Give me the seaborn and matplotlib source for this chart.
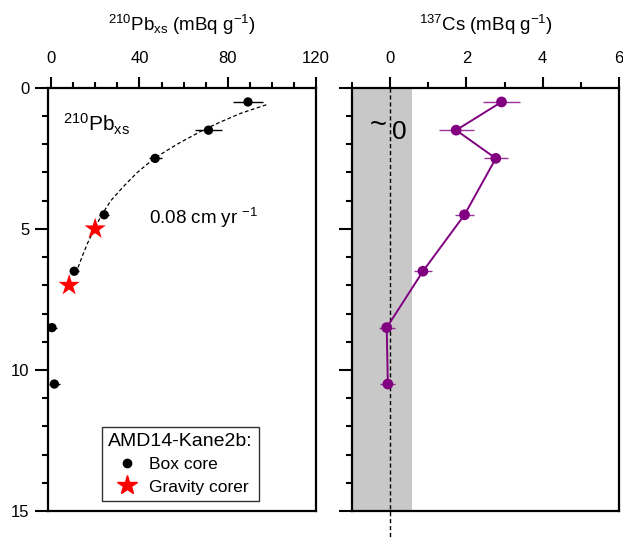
import numpy as np
import pandas as pd
import matplotlib
matplotlib.use("Agg")
import matplotlib.pyplot as plt
from matplotlib.ticker import MultipleLocator
from matplotlib.lines import Line2D
import seaborn as sns

sns.set_style("ticks")
plt.rcParams['font.family'] = ['Liberation Sans', 'DejaVu Sans']
plt.rcParams['mathtext.fontset'] = 'custom'
plt.rcParams['mathtext.rm'] = 'Liberation Sans'
plt.rcParams['mathtext.it'] = 'Liberation Sans'
for k in ['text.color', 'axes.edgecolor', 'xtick.color', 'ytick.color', 'axes.labelcolor']:
    plt.rcParams[k] = 'black'

# depth (cm)
depth = [0.5, 1.5, 2.5, 4.5, 6.5, 8.5, 10.5]

# 210Pb excess, box core
pb = [89.2, 71.3, 47.1, 24.0, 10.4, 0.3, 1.4]
pb_err = [7.0, 6.0, 2.9, 2.4, 2.0, 2.5, 2.5]

# gravity corer
grav_depth = [5.0, 7.0]
grav_pb = [19.9, 8.1]

# fitted curve
fit_depth = [0.6, 0.9, 1.2, 1.5, 2.0, 2.5, 3.0, 3.5, 4.0, 4.5, 5.0, 5.5, 6.0, 6.5]
fit_pb = [97.5, 86.0, 77.0, 68.8, 57.0, 46.7, 39.0, 32.7, 27.0, 22.9, 19.5, 16.5, 13.9, 11.5]

# 137Cs
cs = [2.92, 1.73, 2.77, 1.95, 0.86, -0.09, -0.06]
cs_err = [0.49, 0.46, 0.31, 0.26, 0.24, 0.21, 0.20]

purple = '#800080'

fig = plt.figure(figsize=(6.23, 5.39), dpi=100)
ax1 = fig.add_axes([0.077, 0.052, 0.430, 0.785])
ax2 = fig.add_axes([0.565, 0.052, 0.4286, 0.785])


def style_axis(ax, xlim, xmaj, xmin):
    ax.set_ylim(15, 0)
    ax.set_xlim(*xlim)
    ax.xaxis.tick_top()
    ax.xaxis.set_label_position('top')
    ax.xaxis.set_major_locator(MultipleLocator(xmaj))
    ax.xaxis.set_minor_locator(MultipleLocator(xmin))
    ax.yaxis.set_major_locator(MultipleLocator(5))
    ax.yaxis.set_minor_locator(MultipleLocator(1))
    ax.tick_params(which='major', direction='out', length=8, width=1.5,
                   labelsize=12)
    ax.tick_params(which='minor', direction='out', length=4, width=1.5)
    ax.tick_params(axis='x', which='both', top=True, bottom=False)
    ax.tick_params(axis='x', which='major', pad=8)
    ax.tick_params(axis='y', which='major', length=9.5, pad=4)
    for s in ax.spines.values():
        s.set_visible(True)
        s.set_linewidth(1.6)
        s.set_color('black')


# 左图: 210Pb
style_axis(ax1, (-1.5, 120), 40, 10)

sns.lineplot(x=fit_pb, y=fit_depth, sort=False, estimator=None, ax=ax1,
             color='black', linestyle=(0, (3, 2)), linewidth=0.9)
ax1.errorbar(pb, depth, xerr=pb_err, fmt='none', ecolor='black', elinewidth=1.0,
             capsize=0, zorder=3)
sns.scatterplot(x=pb, y=depth, ax=ax1, color='black', s=45, edgecolor='none',
                zorder=4)
sns.scatterplot(x=grav_pb, y=grav_depth, ax=ax1, color='red', marker='*', s=260,
                edgecolor='none', zorder=5)
ax1.set_xlabel(r'$^{210}$Pb$_{\mathrm{xs}}$ (mBq g$^{-1}$)', fontsize=13.5, labelpad=14)
ax1.set_ylabel('')

ax1.text(5.4, 1.3, r'$^{210}$Pb$_{\mathrm{xs}}$', fontsize=15, va='center')
ax1.text(44.5, 4.6, r'0.08 cm yr $^{-1}$', fontsize=13.5, va='center')

handles = [Line2D([], [], marker='o', color='black', linestyle='none', markersize=6),
           Line2D([], [], marker='*', color='red', linestyle='none', markersize=15)]
leg = ax1.legend(handles, ['Box core', 'Gravity corer'], title='AMD14-Kane2b:',
                 loc='lower left', bbox_to_anchor=(0.17, 0.004), fontsize=12.5,
                 title_fontsize=14, frameon=True, fancybox=False, edgecolor='black',
                 handletextpad=0.15, borderpad=0.35, labelspacing=0.42, handlelength=2.2)
leg._legend_box.align = 'left'
leg.get_frame().set_linewidth(1.0)

# 右图: 137Cs
style_axis(ax2, (-1, 6), 2, 1)
ax2.tick_params(axis='y', labelleft=False)
ax2.axvspan(-1, 0.57, color='#c8c8c8', zorder=0, linewidth=0)
ax2.plot([0, 0], [0, 16], color='black', linestyle=(0, (3, 2)), linewidth=1.0,
         clip_on=False, zorder=1)
ax2.errorbar(cs, depth, xerr=cs_err, fmt='none', ecolor=purple, elinewidth=1.0,
             capsize=0, alpha=0.8, zorder=3)
sns.lineplot(x=cs, y=depth, sort=False, estimator=None, ax=ax2, color=purple,
             linewidth=1.4, zorder=3)
sns.scatterplot(x=cs, y=depth, ax=ax2, color=purple, s=60, edgecolor='none',
                zorder=4)
ax2.set_xlabel(r'$^{137}$Cs (mBq g$^{-1}$)', fontsize=13.5, labelpad=14)
ax2.set_ylabel('')
ax2.text(-0.32, 1.3, '~', fontsize=21, ha='center', va='center')
ax2.text(0.06, 1.55, '0', fontsize=19, ha='left', va='center')

fig.savefig('out.png', dpi=100)
